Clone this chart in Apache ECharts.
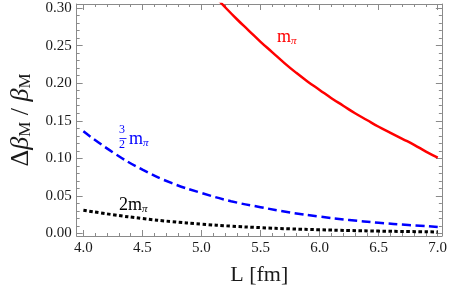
<!DOCTYPE html>
<html><head><meta charset="utf-8">
<script src="https://cdn.jsdelivr.net/npm/echarts@6/dist/echarts.min.js"></script>
<style>html,body{margin:0;padding:0;background:#fff}#c{width:450px;height:291px}</style>
</head><body><div id="c"></div>
<script>
// ---- data ----
const redL   = [5.1, 5.2, 5.3, 5.4, 5.5, 5.6, 5.7, 5.8, 5.9, 6.0, 6.1, 6.2, 6.3, 6.4, 6.5, 6.6, 6.7, 6.8, 6.9, 7.0];
const redV   = [0.318,0.301,0.285,0.270,0.255,0.241,0.227,0.214,0.202,0.191,0.180,0.170,0.160,0.151,0.142,0.134,0.126,0.118,0.109,0.101];
const blueL  = [4.0, 4.25, 4.5, 4.75, 5.0, 5.25, 5.5, 5.75, 6.0, 6.25, 6.5, 6.75, 7.0];
const blueV  = [0.136,0.108,0.085,0.067,0.054,0.043,0.035,0.028,0.0225,0.018,0.0143,0.0114,0.0088];
const blackL = [4.0, 4.25, 4.5, 4.75, 5.0, 5.25, 5.5, 5.75, 6.0, 6.25, 6.5, 6.75, 7.0];
const blackV = [0.031,0.025,0.020,0.0158,0.0125,0.0098,0.0078,0.0062,0.0050,0.0040,0.0032,0.0026,0.0021];
const xTicks = [4.0, 4.5, 5.0, 5.5, 6.0, 6.5, 7.0];
const yTicks = [0.00, 0.05, 0.10, 0.15, 0.20, 0.25, 0.30];
const xMinor = []; for (let i = 39; i <= 70; i++) xMinor.push(i / 10);
const yMinor = []; for (let i = 0; i <= 30; i++) yMinor.push(i / 100);

const XMIN = 3.943, XMAX = 7.035, YMIN = -0.0033, YMAX = 0.3053;
const serif = '"Liberation Serif","DejaVu Serif",serif';
const axisCol = '#8a8a8a';

function xAx(pos, labels, ticks, len, line) {
  return { type: 'value', position: pos, min: XMIN, max: XMAX,
    axisLine: { show: line, onZero: false, lineStyle: { color: axisCol, width: 1 } },
    splitLine: { show: false },
    axisTick: { show: true, inside: true, length: len, customValues: ticks, lineStyle: { color: axisCol } },
    axisLabel: labels ? { show: true, customValues: xTicks, formatter: v => v.toFixed(1), fontFamily: serif, fontSize: 15, color: '#1a1a1a', margin: 5 } : { show: false }
  };
}
function yAx(pos, labels, ticks, len, line) {
  return { type: 'value', position: pos, min: YMIN, max: YMAX,
    axisLine: { show: line, onZero: false, lineStyle: { color: axisCol, width: 1 } },
    splitLine: { show: false },
    axisTick: { show: true, inside: true, length: len, customValues: ticks, lineStyle: { color: axisCol } },
    axisLabel: labels ? { show: true, customValues: yTicks, formatter: v => v.toFixed(2), fontFamily: serif, fontSize: 15, color: '#1a1a1a', margin: 5 } : { show: false }
  };
}
const xAxes = [xAx('bottom', true, xTicks, 6, true), xAx('bottom', false, xMinor, 3, false),
               xAx('top', false, xTicks, 6, true), xAx('top', false, xMinor, 3, false)];
xAxes[0].name = 'L [fm]';
xAxes[0].nameLocation = 'middle';
xAxes[0].nameGap = 28;
xAxes[0].nameTextStyle = { fontFamily: serif, fontSize: 22, color: '#1a1a1a' };
const yAxes = [yAx('left', true, yTicks, 6, true), yAx('left', false, yMinor, 3, false),
               yAx('right', false, yTicks, 6, true), yAx('right', false, yMinor, 3, false)];
yAxes[0].name = '{n|Δ}{b|β}{s|M}{n| / }{b|β}{s|M}';
yAxes[0].nameLocation = 'middle';
yAxes[0].nameGap = 40;
yAxes[0].nameRotate = 90;
yAxes[0].nameTextStyle = { rich: {
  n: { fontFamily: serif, fontSize: 26, color: '#1a1a1a' },
  b: { fontFamily: serif, fontSize: 26, fontStyle: 'italic', color: '#1a1a1a' },
  s: { fontFamily: serif, fontSize: 17, color: '#1a1a1a', padding: [10, 0, 0, 0] }
}};

const pairs = (L, V) => L.map((x, i) => [x, V[i]]);
const sub = (c) => ({ m: { fontFamily: serif, fontSize: 18, fill: c }, p: { fontFamily: serif, fontSize: 11, fontStyle: 'italic', fill: c, padding: [8, 0, 0, 0] }, t: { fontFamily: serif, fontSize: 18, fill: c } });

const chart = echarts.init(document.getElementById('c'), null, { renderer: 'canvas' });
chart.setOption({
  animation: false,
  backgroundColor: '#fff',
  grid: { left: 67, right: 7, top: 4, bottom: 54, containLabel: false },
  xAxis: xAxes,
  yAxis: yAxes,
  series: [
    { type: 'line', data: pairs(redL, redV), smooth: true, showSymbol: false, clip: true,
      lineStyle: { color: '#ff0000', width: 2.5 } },
    { type: 'line', data: pairs(blueL, blueV), smooth: true, showSymbol: false, clip: true,
      lineStyle: { color: '#0000ff', width: 2.5, type: [9, 4.5] } },
    { type: 'line', data: pairs(blackL, blackV), smooth: true, showSymbol: false, clip: true,
      lineStyle: { color: '#000', width: 3, type: [3.5, 2.5] } }
  ],
  graphic: [
    { type: 'text', left: 277, top: 28, style: { text: '{m|m}{p|π}', rich: sub('#ff0000') } },
    { type: 'text', left: 119, top: 124, style: { text: '3', fontFamily: serif, fontSize: 12, fill: '#0000ff' } },
    { type: 'line', shape: { x1: 119.5, y1: 138.5, x2: 126.5, y2: 138.5 }, style: { stroke: '#0000ff', lineWidth: 0.8 } },
    { type: 'text', left: 119, top: 139, style: { text: '2', fontFamily: serif, fontSize: 12, fill: '#0000ff' } },
    { type: 'text', left: 129, top: 130, style: { text: '{m|m}{p|π}', rich: sub('#0000ff') } },
    { type: 'text', left: 119, top: 196, style: { text: '{t|2m}{p|π}', rich: sub('#000') } }
  ]
});
</script></body></html>
